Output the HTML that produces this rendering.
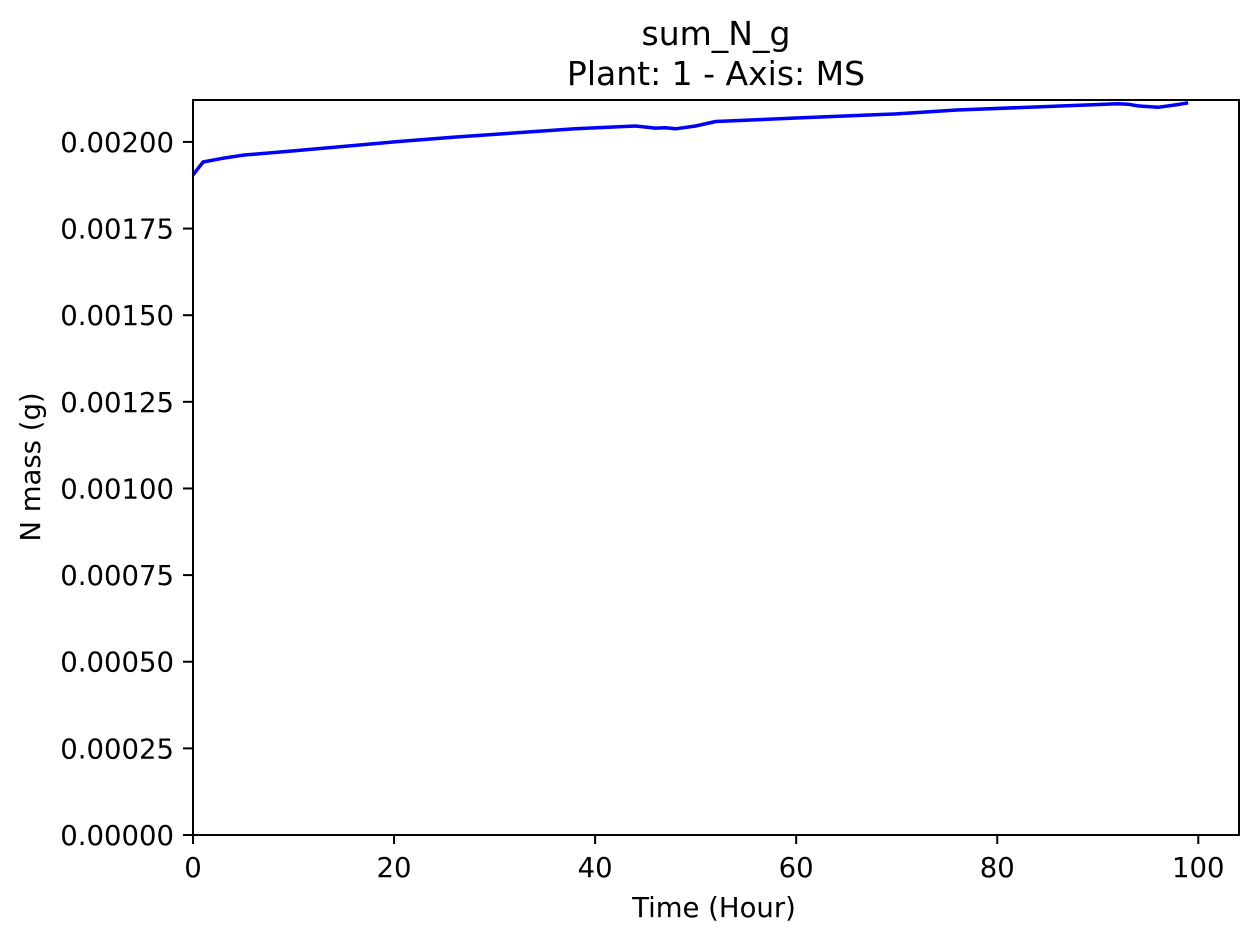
<!DOCTYPE html>
<html><head><meta charset="utf-8"><style>
body{margin:0;background:#fff;}
svg text{font-family:"DejaVu Sans","Liberation Sans",sans-serif;fill:#000;}
</style></head><body>
<svg id="chart" width="1259" height="942" xmlns="http://www.w3.org/2000/svg">
<rect width="1259" height="942" fill="#fff"/>
<text x="716" y="45" font-size="33" text-anchor="middle">sum_N_g</text>
<text x="716" y="85" font-size="33" text-anchor="middle">Plant: 1 - Axis: MS</text>
<g id="xticks"></g>
<g id="yticks"></g>
<path id="series" fill="none" stroke="#0000ff" stroke-width="3.5" stroke-linejoin="round"/>
<rect x="193" y="100" width="1046" height="735" fill="none" stroke="#000" stroke-width="2"/>
<text x="714" y="917" font-size="27.5" text-anchor="middle">Time (Hour)</text>
<text transform="translate(40,467) rotate(-90)" font-size="27.5" text-anchor="middle">N mass (g)</text>
</svg>
<script>
const hours=[0,1,3,5,10,20,26,38,44,46,47,48,50,52,60,70,76,92,93,94,96,98,99];
const nMass=[0.001905,0.001942,0.001953,0.001962,0.001974,0.002000,0.002014,0.002038,0.002046,0.002040,0.002041,0.002038,0.002046,0.002059,0.002069,0.002081,0.002092,0.002110,0.002109,0.002104,0.002100,0.002108,0.002113];
const xTicks=[0,20,40,60,80,100];
const yTicks=[0,0.00025,0.0005,0.00075,0.001,0.00125,0.0015,0.00175,0.002];
const L=193,R=1239,T=100,B=835,xMax=104.05,yMax=0.002121;
const sx=v=>L+v/xMax*(R-L);
const sy=v=>B-v/yMax*(B-T);
const NS="http://www.w3.org/2000/svg";
const xg=document.getElementById('xticks'),yg=document.getElementById('yticks');
xTicks.forEach(t=>{
 const l=document.createElementNS(NS,'line');
 
 
 l.setAttribute('x1',sx(t));l.setAttribute('x2',sx(t));l.setAttribute('y1',B);l.setAttribute('y2',B+9);l.setAttribute('stroke','#000');l.setAttribute('stroke-width','2');
 xg.appendChild(l);
 const tx=document.createElementNS(NS,'text');
 
 
 tx.setAttribute('x',sx(t));tx.setAttribute('y',877);tx.setAttribute('font-size','27.5');tx.setAttribute('text-anchor','middle');
 tx.textContent=t;xg.appendChild(tx);
});
yTicks.forEach(t=>{
 const l=document.createElementNS(NS,'line');
 
 
 l.setAttribute('x1',L-10);l.setAttribute('x2',L);l.setAttribute('y1',sy(t));l.setAttribute('y2',sy(t));l.setAttribute('stroke','#000');l.setAttribute('stroke-width','2');
 yg.appendChild(l);
 const tx=document.createElementNS(NS,'text');
 
 
 tx.setAttribute('x',174);tx.setAttribute('y',sy(t)+10);tx.setAttribute('font-size','27.5');tx.setAttribute('text-anchor','end');
 tx.textContent=t.toFixed(5);yg.appendChild(tx);
});
document.getElementById('series').setAttribute('d',hours.map((h,i)=>(i?'L':'M')+sx(h).toFixed(1)+','+sy(nMass[i]).toFixed(1)).join(''));
</script>
</body></html>
